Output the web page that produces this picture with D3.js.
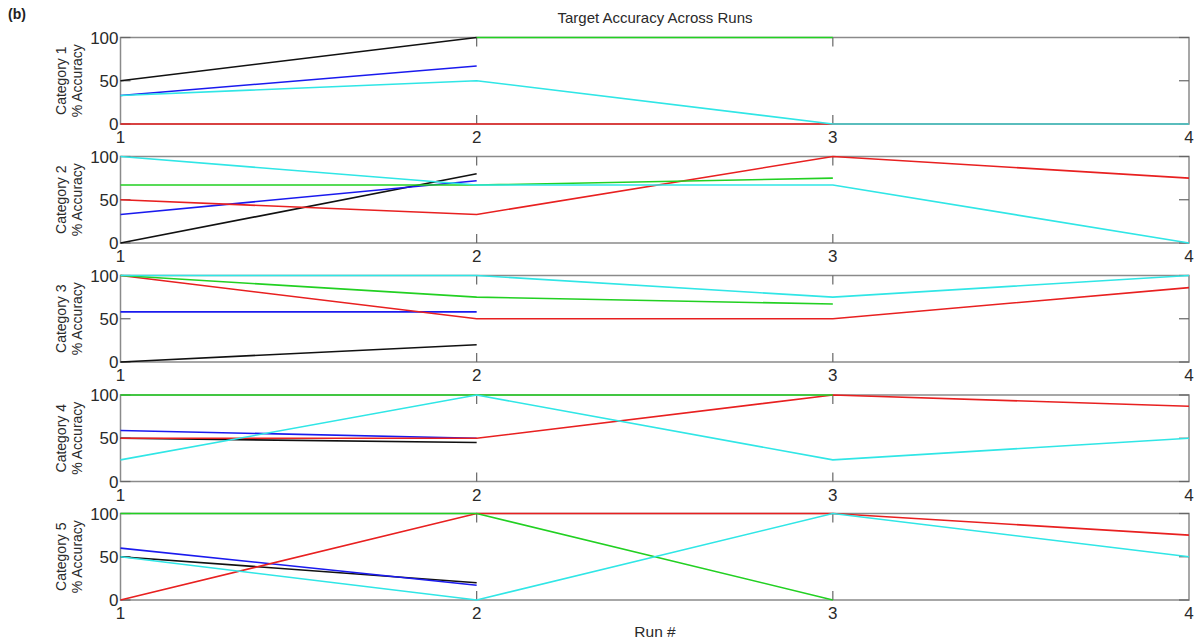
<!DOCTYPE html>
<html>
<head>
<meta charset="utf-8">
<script src="https://cdn.jsdelivr.net/npm/d3@7"></script>
<style>
  html, body { margin: 0; padding: 0; background: #fff; }
  svg { display: block; font-family: "Liberation Sans", Arial, sans-serif; }
</style>
</head>
<body>
<svg id="chart" width="1196" height="643"></svg>
<script>
// Runs on the x axis and the y tick labels
const runs = [1, 2, 3, 4];
const yTicks = [0, 50, 100];
const categories = ["Category 1", "Category 2", "Category 3", "Category 4", "Category 5"];

// Per-series accuracy by run for each category (null = no value for that run)
const blackSeries = [
  [50, 100, null, null],
  [0, 80, null, null],
  [0, 20, null, null],
  [50, 45, null, null],
  [50, 20, null, null]
];
const blueSeries = [
  [33, 67, null, null],
  [33, 72, null, null],
  [58, 58, null, null],
  [59, 50, null, null],
  [60, 17, null, null]
];
const redSeries = [
  [0, 0, 0, 0],
  [50, 33, 100, 75],
  [100, 50, 50, 86],
  [50, 50, 100, 87],
  [0, 100, 100, 75]
];
const greenSeries = [
  [null, 100, 100, null],
  [67, 67, 75, null],
  [100, 75, 67, null],
  [100, 100, 100, null],
  [100, 100, 0, null]
];
const cyanSeries = [
  [33, 50, 0, 0],
  [100, 67, 67, 0],
  [100, 100, 75, 100],
  [25, 100, 25, 50],
  [50, 0, 100, 50]
];

const seriesList = [
  { values: blackSeries, color: "#111111" },
  { values: blueSeries,  color: "#1a1aee" },
  { values: redSeries,   color: "#e82020" },
  { values: greenSeries, color: "#22d022" },
  { values: cyanSeries,  color: "#30e6e6" }
];

const svg = d3.select("#chart");
const left = 120.5, right = 1189;
const panelTops = [37.5, 156.5, 275.5, 395, 513.5];
const panelH = 86.5;
const axisColor = "#8a8a8a";
const textColor = "#2a2a2a";

const x = d3.scaleLinear().domain([1, 4]).range([left, right]);

categories.forEach((cat, i) => {
  const top = panelTops[i];
  const y = d3.scaleLinear().domain([0, 100]).range([top + panelH, top]);
  const g = svg.append("g");

  // data lines, clipped to the box
  const clipId = "clip" + i;
  svg.append("clipPath").attr("id", clipId)
    .append("rect").attr("x", left - 1).attr("y", top - 1.5)
    .attr("width", right - left + 2).attr("height", panelH + 3);

  const line = d3.line()
    .defined(d => d.v !== null)
    .x(d => x(d.run))
    .y(d => y(d.v));

  // box
  g.append("rect")
    .attr("x", left).attr("y", top)
    .attr("width", right - left).attr("height", panelH)
    .attr("fill", "none").attr("stroke", axisColor).attr("stroke-width", 1.5);

  // inward ticks on all four sides
  const xt = runs.slice(1, -1);
  g.selectAll(".xtb").data(xt).enter().append("line")
    .attr("x1", d => x(d)).attr("x2", d => x(d))
    .attr("y1", top + panelH).attr("y2", top + panelH - 9)
    .attr("stroke", "#666").attr("stroke-width", 1.2);
  g.selectAll(".xtt").data(xt).enter().append("line")
    .attr("x1", d => x(d)).attr("x2", d => x(d))
    .attr("y1", top).attr("y2", top + 9)
    .attr("stroke", "#666").attr("stroke-width", 1.2);
  g.selectAll(".ytl").data(yTicks).enter().append("line")
    .attr("x1", left).attr("x2", left + 10)
    .attr("y1", d => y(d)).attr("y2", d => y(d))
    .attr("stroke", "#666").attr("stroke-width", 1.2);
  g.selectAll(".ytr").data(yTicks).enter().append("line")
    .attr("x1", right).attr("x2", right - 10)
    .attr("y1", d => y(d)).attr("y2", d => y(d))
    .attr("stroke", "#666").attr("stroke-width", 1.2);

  const lines = g.append("g").attr("clip-path", `url(#${clipId})`);
  seriesList.forEach(s => {
    const pts = s.values[i].map((v, k) => ({ run: runs[k], v }));
    lines.append("path")
      .attr("d", line(pts))
      .attr("fill", "none")
      .attr("stroke", s.color)
      .attr("stroke-width", 1.6);
  });

  // tick labels
  g.selectAll(".yl").data(yTicks).enter().append("text")
    .attr("x", left - 2).attr("y", d => y(d) + 6)
    .attr("text-anchor", "end")
    .attr("font-size", 17).attr("fill", textColor)
    .text(d => d);
  g.selectAll(".xl").data(runs).enter().append("text")
    .attr("x", d => x(d)).attr("y", top + panelH + 19)
    .attr("text-anchor", "middle")
    .attr("font-size", 17).attr("fill", textColor)
    .text(d => d);

  // y label
  const cy = top + panelH / 2;
  const lab = g.append("text")
    .attr("transform", `translate(66,${cy}) rotate(-90)`)
    .attr("text-anchor", "middle")
    .attr("font-size", 14).attr("fill", textColor);
  lab.append("tspan").attr("x", 0).attr("dy", 0).text(cat);
  lab.append("tspan").attr("x", 0).attr("dy", 16).text("% Accuracy");
});

svg.append("text")
  .attr("x", 655).attr("y", 23)
  .attr("text-anchor", "middle")
  .attr("font-size", 15).attr("fill", textColor)
  .text("Target Accuracy Across Runs");

svg.append("text")
  .attr("x", 8).attr("y", 19)
  .attr("font-size", 14).attr("font-weight", "bold").attr("fill", "#222")
  .text("(b)");

svg.append("text")
  .attr("x", 655).attr("y", 637)
  .attr("text-anchor", "middle")
  .attr("font-size", 15.5).attr("fill", textColor)
  .text("Run #");
</script>
</body>
</html>
